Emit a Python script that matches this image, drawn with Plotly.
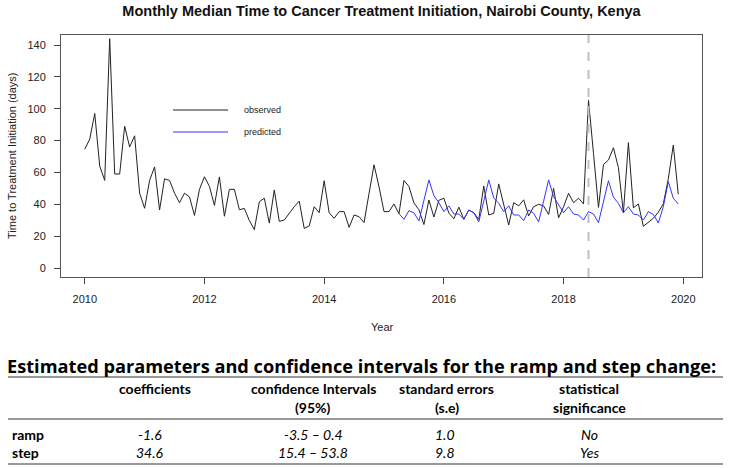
import plotly.graph_objects as go

# ---------------- data ----------------
start_year = 2010
observed = [
    74.5, 81, 97, 64, 55, 144, 59, 59, 89, 76, 83, 47,
    37.5, 55, 63.5, 36.4, 56, 55, 47, 41, 47, 44.6, 33, 49.4,
    57.3, 51.2, 39.3, 57.2, 32.5, 49.4, 49.4, 36.6, 37.4, 29.8, 24.1, 41.6,
    43.8, 28.2, 49, 29.3, 30.1, 34.7, 38.5, 42, 24.9, 26.4, 38.5, 34.7,
    54.8, 34.7, 31.2, 35.4, 35.4, 25.5, 33.3, 32.2, 28.5, 46.9, 64.8, 51,
    35.4, 35.4, 40.2, 34.1, 55, 51.2, 40.8, 36.6, 27.3, 42.7, 32, 42.5,
    43.8, 34.5, 30.9, 38.2, 30.6, 36.4, 34.7, 30.5, 51.5, 33.3, 34.3, 52.8,
    40.1, 27, 41, 39, 42.8, 32.7, 38.5, 40, 39, 33.6, 50, 31.5,
    38.5, 46.9, 41, 43.8, 40.2, 105.3, 72, 38, 65, 67.8, 75.5, 63,
    34.7, 78.7, 37.8, 40.2, 26.2, 28.5, 31.2, 35, 40.3, 56, 77.2, 46.4,
]
pred_start_month = 63  # April 2015
predicted = [
    34.1, 30.6, 36, 34.7, 29.5, 42, 55.3, 45.5, 41,
    35.4, 39, 33.9, 33.9, 30.6, 36.4, 34.7, 29, 42, 55.3, 44, 40.6,
    35.4, 39, 33.3, 33.3, 29.7, 36.4, 34.3, 29, 42, 55.3, 44.8, 39.8,
    34.7, 38.5, 33.9, 33.3, 30.1, 35.4, 33.9, 28.5, 41.6, 54.8, 44.4, 40.6,
    34.7, 38.5, 33.9, 33.3, 30.1, 35.4, 33.6, 28.3, 38.5, 54.2, 43.8, 40.2,
]
intervention_month = 101  # June 2018
x_ticks = [2010, 2012, 2014, 2016, 2018, 2020]
y_ticks = [0, 20, 40, 60, 80, 100, 120, 140]

# table
table_title = "Estimated parameters and confidence intervals for the ramp and step change:"
col_header_1 = ["coefficients", "confidence Intervals", "standard errors", "statistical"]
col_header_2 = ["", "(95%)", "(s.e)", "significance"]
row_labels = ["ramp", "step"]
coefficients = ["-1.6", "34.6"]
conf_intervals = ["-3.5 \u2013 0.4", "15.4 \u2013 53.8"]
std_errors = ["1.0", "9.8"]
significance = ["No", "Yes"]

# ---------------- figure ----------------
W, H = 733, 468
L, R, T, B = 61, 702, 35, 277

def fx(px):
    return (px - L) / (R - L)

def fy(py):
    return (B - py) / (B - T)

obs_x = [start_year + m / 12 for m in range(len(observed))]
pred_x = [start_year + (pred_start_month + m) / 12 for m in range(len(predicted))]

fig = go.Figure()
fig.add_trace(go.Scatter(x=obs_x, y=observed, mode="lines",
                         line=dict(color="#222222", width=1), name="observed",
                         showlegend=False))
fig.add_trace(go.Scatter(x=pred_x, y=predicted, mode="lines",
                         line=dict(color="#3333ff", width=1), name="predicted",
                         showlegend=False))

iv_x = start_year + intervention_month / 12
fig.add_shape(type="line", xref="x", yref="paper", x0=iv_x, x1=iv_x, y0=0, y1=1,
              line=dict(color="#c0c0c0", width=2, dash="dash"))

axis_font = dict(family="Liberation Sans, Arial", size=11, color="#222")
fig.update_xaxes(range=[2009.603, 2020.313], tickvals=x_ticks, ticks="outside",
                 ticklen=6, tickcolor="#444", showline=True, mirror=True,
                 linecolor="#555", linewidth=1, showgrid=False, zeroline=False,
                 tickfont=axis_font, ticklabelstandoff=6)
fig.update_yaxes(range=[-5.65, 146.3], tickvals=y_ticks, ticks="outside",
                 ticklen=6, tickcolor="#444", showline=True, mirror=True,
                 linecolor="#555", linewidth=1, showgrid=False, zeroline=False,
                 tickfont=axis_font, ticklabelstandoff=6)

ann = []

def text(t, px, py, font, xanchor="center", angle=0):
    ann.append(dict(text=t, x=fx(px), y=fy(py), xref="paper", yref="paper",
                    xanchor=xanchor, yanchor="middle", showarrow=False,
                    textangle=angle, font=font))

# axis titles
text("Year", 383, 327, axis_font)
text("Time to Treatment Initiation (days)", 12, 156, axis_font, angle=-90)
# legend
leg_font = dict(family="Liberation Sans, Arial", size=9, color="#222")
for label, col, py in [("observed", "#222222", 110), ("predicted", "#3333ff", 132)]:
    fig.add_shape(type="line", xref="paper", yref="paper", x0=fx(173), x1=fx(228),
                  y0=fy(py), y1=fy(py), line=dict(color=col, width=1))
    text(label, 242, py, leg_font, xanchor="left")

# table
tfont = "Lato, Carlito, Calibri, sans-serif"
f14 = dict(family=tfont, size=14, color="#000")
text("<b>" + table_title + "</b>", 5, 366,
     dict(family="Open Sans, Lato, sans-serif", size=18.2, color="#000"), xanchor="left")
col_x = [155, 313, 447, 589]
for cx, h1, h2 in zip(col_x, col_header_1, col_header_2):
    text("<b>" + h1 + "</b>", cx, 388, f14)
    if h2:
        text("<b>" + h2 + "</b>", cx, 407, f14)
row_y = [434, 452]
val_x = [150, 313, 445, 589]
for i, ry in enumerate(row_y):
    text("<b>" + row_labels[i] + "</b>", 10, ry, f14, xanchor="left")
    for cx, v in zip(val_x, [coefficients[i], conf_intervals[i], std_errors[i], significance[i]]):
        text("<i>" + v + "</i>", cx, ry, f14)
for ly in [377, 419, 464]:
    fig.add_shape(type="line", xref="paper", yref="paper", x0=fx(8), x1=fx(723),
                  y0=fy(ly), y1=fy(ly), line=dict(color="#333", width=1))

fig.update_layout(
    width=W, height=H, margin=dict(l=L, r=W - R, t=T, b=H - B),
    paper_bgcolor="white", plot_bgcolor="white", showlegend=False,
    title=dict(text="<b>Monthly Median Time to Cancer Treatment Initiation, Nairobi County, Kenya</b>",
               x=381.5 / W, xanchor="center", xref="container",
               y=1 - 11 / H, yanchor="middle", yref="container",
               font=dict(family="Liberation Sans, Arial", size=14.5, color="#111")),
    annotations=ann,
)

fig.write_html("out.html")
